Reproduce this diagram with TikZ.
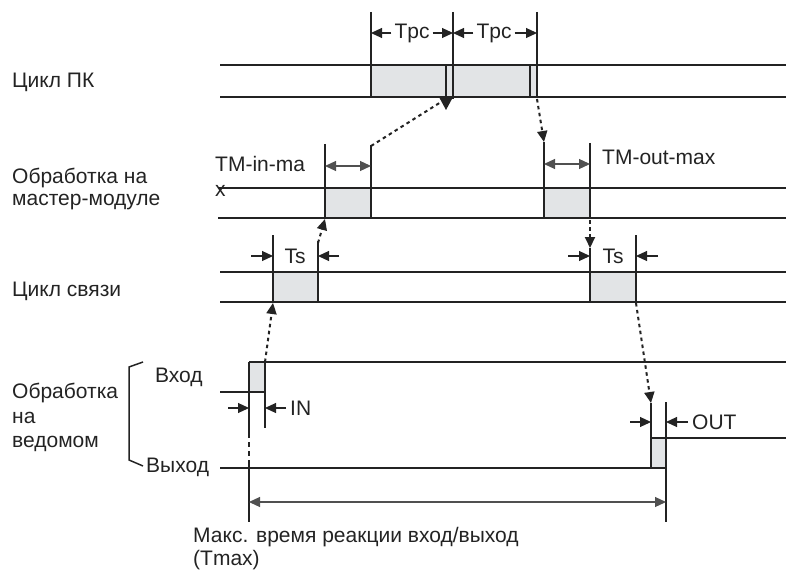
\documentclass[tikz,border=0pt]{standalone}
\usepackage{fontspec}
\setmainfont{Liberation Sans}
\usetikzlibrary{arrows.meta}
\definecolor{linec}{RGB}{35,35,35}
\definecolor{boxgray}{RGB}{226,228,230}
\definecolor{dimgray}{RGB}{80,80,80}
\begin{document}
\begin{tikzpicture}[x=1pt,y=-1pt,
  sig/.style={draw=linec, line width=1.6pt},
  boxs/.style={fill=boxgray, draw=linec, line width=2pt},
  vl/.style={draw=linec, line width=1.5pt},
  dimarr/.style={draw=linec, line width=1.1pt, -{Triangle[length=11pt,width=10pt]}},
  dimboth/.style={draw=dimgray, line width=1.2pt, {Triangle[length=11pt,width=10pt]}-{Triangle[length=11pt,width=10pt]}},
  dots/.style={draw=linec, line width=2pt, dash pattern=on 3.5pt off 3.5pt, -{Triangle[length=11pt,width=10pt]}},
  lbl/.style={font=\fontsize{21}{25}\selectfont, inner sep=0pt, anchor=west, text=linec},
  dimtxt/.style={font=\fontsize{21}{25}\selectfont, inner sep=3pt, text=linec}
]
\useasboundingbox (0,0) rectangle (786,572);

% ---------- left labels ----------
\node[lbl] (lpc) at (12,82) {Цикл ПК};
\node[lbl] (lm1) at (12,178) {Обработка на};
\node[lbl] (lm2) at (12,202) {мастер-модуле};
\node[lbl] (llink) at (12,291) {Цикл связи};
\node[lbl] (ls1) at (12,393) {Обработка};
\node[lbl] (ls2) at (12,418) {на};
\node[lbl] (ls3) at (12,444) {ведомом};
\node[lbl] (lin) at (155,377) {Вход};
\node[lbl] (lout) at (146,467) {Выход};
\draw[vl] (143,362) -- (129,367) -- (129,460) -- (143,466);

% ---------- PC cycle ----------
\fill[boxgray] (371,65) rectangle (537,97);
\draw[sig] (220,65) -- (786,65);
\draw[sig] (220,97) -- (786,97);
\draw[vl] (371,12) -- (371,97);
\draw[vl] (446,65) -- (446,97);
\draw[vl] (453,12) -- (453,99);
\draw[vl] (530,65) -- (530,97);
\draw[vl] (537,12) -- (537,97);
\node[dimtxt] (tpc1) at (412,33) {Tpc};
\node[dimtxt] (tpc2) at (494,33) {Tpc};
\coordinate (pcL) at (371,33);
\coordinate (pcM) at (453,33);
\coordinate (pcR) at (537,33);
\draw[dimarr] (tpc1.west) -- (pcL);
\draw[dimarr] (tpc1.east) -- (pcM);
\draw[dimarr] (tpc2.west) -- (pcM);
\draw[dimarr] (tpc2.east) -- (pcR);

% ---------- master module ----------
\draw[sig] (218,188) -- (786,188);
\draw[sig] (218,218) -- (786,218);
\draw[boxs] (325,188) rectangle (371,218);
\draw[boxs] (544,188) rectangle (590,218);
\draw[vl] (325,144) -- (325,218);
\draw[vl] (371,145) -- (371,218);
\draw[vl] (544,142) -- (544,218);
\draw[vl] (590,143) -- (590,218);
\coordinate (mi1) at (325,166);
\coordinate (mi2) at (371,166);
\coordinate (mo1) at (544,164);
\coordinate (mo2) at (590,164);
\draw[dimboth] (mi1) -- (mi2);
\draw[dimboth] (mo1) -- (mo2);
\node[lbl] (tmin1) at (215,164) {TM-in-ma};
\node[lbl] (tmin2) at (215,191) {x};
\node[lbl] (tmout) at (602,157) {TM-out-max};

% ---------- link cycle ----------
\draw[sig] (220,272) -- (786,272);
\draw[sig] (220,302) -- (786,302);
\draw[boxs] (273,272) rectangle (318,302);
\draw[boxs] (590,272) rectangle (636,302);
\draw[vl] (273,235) -- (273,302);
\draw[vl] (318,241) -- (318,302);
\draw[vl] (590,248) -- (590,302);
\draw[vl] (636,235) -- (636,302);
\node[dimtxt] (ts1) at (295,256) {Ts};
\node[dimtxt] (ts2) at (613,256) {Ts};
\coordinate (t1a) at (251,256); \coordinate (t1b) at (273,256);
\coordinate (t1c) at (339,256); \coordinate (t1d) at (318,256);
\coordinate (t2a) at (568,256); \coordinate (t2b) at (590,256);
\coordinate (t2c) at (658,256); \coordinate (t2d) at (636,256);
\draw[dimarr] (t1a) -- (t1b);
\draw[dimarr] (t1c) -- (t1d);
\draw[dimarr] (t2a) -- (t2b);
\draw[dimarr] (t2c) -- (t2d);

% ---------- slave: input ----------
\fill[boxgray] (249,362) rectangle (265,392);
\draw[sig] (249,362) -- (786,362);
\draw[sig] (220,392) -- (265,392);
\draw[vl] (249,362) -- (249,433);
\draw[vl, dash pattern=on 5pt off 4pt] (249,433) -- (249,460);
\draw[vl] (249,460) -- (249,522);
\draw[vl] (265,362) -- (265,428);
\coordinate (ia) at (228,408); \coordinate (ib) at (249,408);
\coordinate (ic) at (286,408); \coordinate (id) at (265,408);
\draw[dimarr] (ia) -- (ib);
\draw[dimarr] (ic) -- (id);
\node[lbl] (tin) at (290,408) {IN};

% ---------- slave: output ----------
\fill[boxgray] (651,438) rectangle (666,468);
\draw[sig] (220,468) -- (666,468);
\draw[sig] (651,438) -- (786,438);
\draw[vl] (651,403) -- (651,468);
\draw[vl] (666,402) -- (666,522);
\coordinate (oa) at (630,422); \coordinate (ob) at (651,422);
\coordinate (oc) at (688,422); \coordinate (od) at (666,422);
\draw[dimarr] (oa) -- (ob);
\draw[dimarr] (oc) -- (od);
\node[lbl] (tout) at (692,422) {OUT};

% ---------- Tmax ----------
\coordinate (tm1) at (249,502);
\coordinate (tm2) at (666,502);
\draw[dimboth] (tm1) -- (tm2);
\node[lbl] (tmx1) at (193,537) {Макс. время реакции вход/выход};
\node[lbl] (tmx2) at (193,560) {(Tmax)};

% ---------- dotted flow arrows ----------
\coordinate (d1s) at (371,146);
\coordinate (d1e) at (441,102);
\draw[draw=linec, line width=2pt, dash pattern=on 3.5pt off 3.5pt] (d1s) -- (d1e);
\fill[linec] (439,97) -- (453,97) -- (446,110) -- cycle;

\coordinate (d2s) at (537,99);
\coordinate (d2e) at (544,142);
\draw[dots] (d2s) -- (d2e);

\coordinate (d3s) at (590,220);
\coordinate (d3e) at (590,248);
\draw[dots] (d3s) -- (d3e);

\coordinate (d4s) at (318,243);
\coordinate (d4e) at (325,219);
\draw[dots] (d4s) -- (d4e);

\coordinate (d5s) at (265,362);
\coordinate (d5e) at (273,303);
\draw[dots] (d5s) -- (d5e);

\coordinate (d6s) at (636,303);
\coordinate (d6e) at (651,403);
\draw[dots] (d6s) -- (d6e);
\end{tikzpicture}
\end{document}
